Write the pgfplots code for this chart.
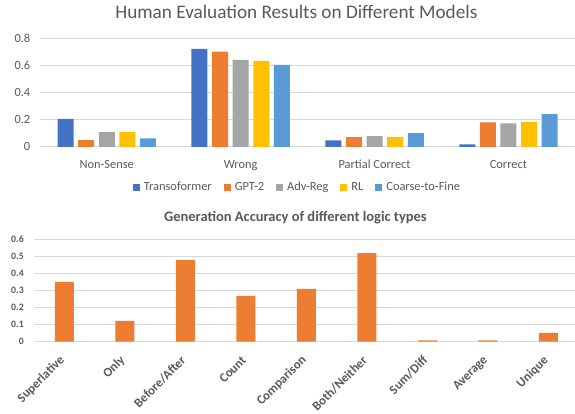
\documentclass[border=0pt]{standalone}
\usepackage{pgfplots}
\pgfplotsset{compat=1.18}
\usepackage{fontspec}
\setmainfont{Carlito}
\definecolor{cTr}{HTML}{4472C4}
\definecolor{cGpt}{HTML}{ED7D31}
\definecolor{cAdv}{HTML}{A5A5A5}
\definecolor{cRL}{HTML}{FFC000}
\definecolor{cC2F}{HTML}{5B9BD5}
\definecolor{txt}{HTML}{595959}
\definecolor{gridc}{HTML}{D9D9D9}
\begin{document}
\begin{tikzpicture}
\useasboundingbox (0,0) rectangle (575pt,414pt);
\begin{axis}[
  at={(39.8pt,267.2pt)}, anchor=south west,
  scale only axis, width=535.6pt, height=108.3pt,
  xmin=-0.5, xmax=3.5, ymin=0, ymax=0.8,
  ybar=4.6pt, bar width=16pt,
  xtick={0,1,2,3}, xticklabels={Non-Sense,Wrong,Partial Correct,Correct},
  ytick={0,0.2,0.4,0.6,0.8},
  ymajorgrids, grid style={gridc, line width=0.8pt},
  axis line style={draw=none},
  major tick length=0pt,
  tick label style={font=\fontsize{12.4}{14}\selectfont, text=txt},
  /pgf/number format/assume math mode=true,
  /pgf/number format/fixed,
  yticklabel style={xshift=-6pt},
  xticklabel style={yshift=-10pt},
  title={Human Evaluation Results on Different Models},
  title style={at={(0.479,1.095)}, font=\fontsize{19.2}{22}\selectfont, text=txt},
  legend style={at={(0.481,-0.375)}, anchor=center, legend columns=-1, draw=none,
    font=\fontsize{12.4}{14}\selectfont, text=txt, inner sep=0pt,
    /tikz/every odd column/.append style={column sep=2pt},
    /tikz/every even column/.append style={column sep=10pt}},
  legend image code/.code={\fill[#1] (0pt,-3.5pt) rectangle (7pt,3.5pt);},
]
\addplot[fill=cTr, draw=none] coordinates {(0,0.207) (1,0.723) (2,0.047) (3,0.018)};
\addplot[fill=cGpt, draw=none] coordinates {(0,0.050) (1,0.703) (2,0.072) (3,0.180)};
\addplot[fill=cAdv, draw=none] coordinates {(0,0.109) (1,0.642) (2,0.079) (3,0.173)};
\addplot[fill=cRL, draw=none] coordinates {(0,0.109) (1,0.634) (2,0.072) (3,0.185)};
\addplot[fill=cC2F, draw=none] coordinates {(0,0.062) (1,0.605) (2,0.101) (3,0.242)};
\legend{Transoformer, GPT-2, Adv-Reg, RL, Coarse-to-Fine}
\end{axis}
\begin{axis}[
  at={(34.25pt,72.3pt)}, anchor=south west,
  scale only axis, width=540.75pt, height=102.7pt,
  xmin=-0.5, xmax=8.44, ymin=0, ymax=0.6,
  ybar, bar width=19pt,
  xtick={0,1,2,3,4,5,6,7,8},
  xticklabels={Superlative,Only,Before/After,Count,Comparison,Both/Neither,Sum/Diff,Average,Unique},
  ytick={0,0.1,0.2,0.3,0.4,0.5,0.6},
  ymajorgrids, grid style={gridc, line width=0.8pt},
  axis line style={draw=none},
  major tick length=0pt,
  /pgf/number format/assume math mode=true,
  /pgf/number format/fixed,
  yticklabel style={font=\bfseries\fontsize{9.8}{11}\selectfont, text=txt, xshift=-7pt},
  xticklabel style={font=\bfseries\fontsize{12.8}{15}\selectfont, text=txt, inner sep=0pt, xshift=-2pt, yshift=-16.5pt, rotate=45, anchor=east},
  title={Generation Accuracy of different logic types},
  title style={at={(0.483,1.05)}, font=\bfseries\fontsize{14.5}{17}\selectfont, text=txt},
]
\addplot[fill=cGpt, draw=none] coordinates {(0,0.349) (1,0.121) (2,0.477) (3,0.267) (4,0.308) (5,0.518) (6,0.008) (7,0.008) (8,0.051)};
\end{axis}
\end{tikzpicture}
\end{document}
